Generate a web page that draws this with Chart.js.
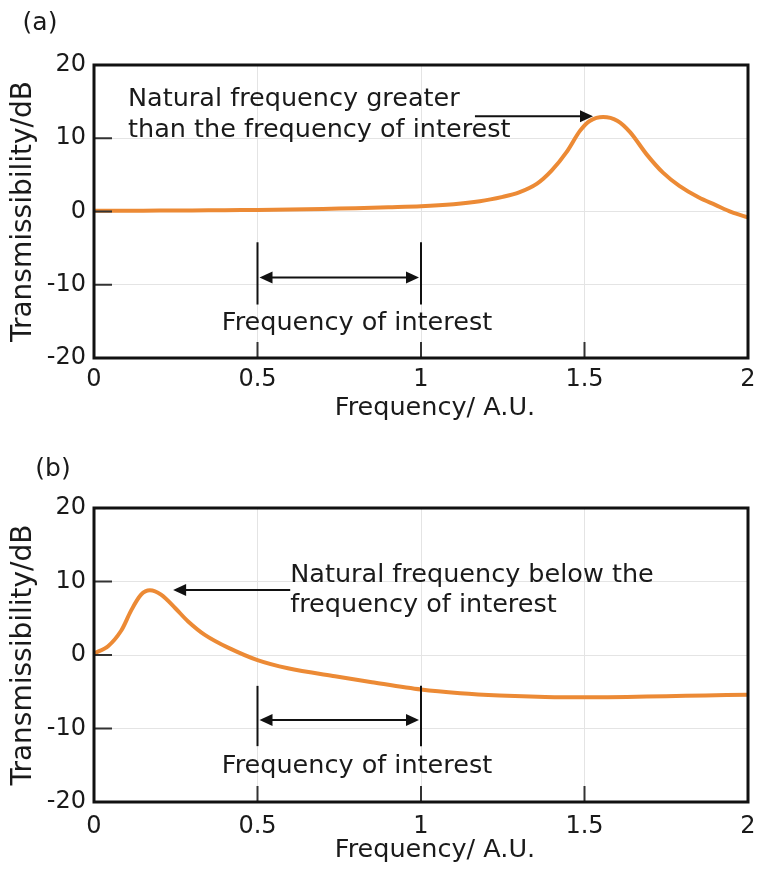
<!DOCTYPE html>
<html>
<head>
<meta charset="utf-8">
<script src="https://cdn.jsdelivr.net/npm/chart.js@4.4.0/dist/chart.umd.min.js"></script>
<style>
  html, body { margin: 0; padding: 0; background: #fff; }
  .panel { position: absolute; left: 0; width: 758px; height: 435px; }
  #panelA { top: 0; }
  #panelB { top: 435px; }
</style>
</head>
<body>
<div class="panel" id="panelA"><canvas id="chartA" width="758" height="435"></canvas></div>
<div class="panel" id="panelB"><canvas id="chartB" width="758" height="435"></canvas></div>
<script>
// Données (fréquence en A.U., transmissibilité en dB)
const freqA = [0, 0.1, 0.2, 0.3, 0.4, 0.5, 0.6, 0.7, 0.8, 0.9, 1.0, 1.1, 1.18, 1.25, 1.3, 1.355, 1.4, 1.445, 1.486, 1.517, 1.557, 1.6, 1.64, 1.69, 1.74, 1.79, 1.85, 1.9, 1.95, 2.0];
const transA = [0.1, 0.1, 0.12, 0.15, 0.18, 0.22, 0.28, 0.35, 0.45, 0.58, 0.72, 1.0, 1.4, 2.0, 2.6, 3.8, 5.6, 8.1, 11.0, 12.4, 12.9, 12.4, 10.8, 7.8, 5.3, 3.5, 1.9, 0.9, -0.1, -0.8];

const freqB = [0, 0.043, 0.083, 0.113, 0.144, 0.171, 0.205, 0.248, 0.287, 0.34, 0.41, 0.5, 0.593, 0.737, 0.85, 1.0, 1.12, 1.24, 1.38, 1.51, 1.63, 1.75, 1.87, 2.0];
const transB = [0.2, 1.2, 3.3, 6.0, 8.2, 8.8, 8.2, 6.4, 4.6, 2.7, 1.0, -0.7, -1.8, -2.9, -3.7, -4.7, -5.2, -5.5, -5.7, -5.75, -5.7, -5.6, -5.5, -5.4];

const xTickLabels = ['0', '0.5', '1', '1.5', '2'];
const yTickLabels = ['-20', '-10', '0', '10', '20'];

const FONT = '"DejaVu Sans", Verdana, sans-serif';
const INK = '#1a1a1a';
const ORANGE = '#ec8a35';

// Annotations (positions en unités de données)
const notesA = {
    tag: '(a)', tagX: 40, tagY: 23, titleY: 408,
    text: ['Natural frequency greater', 'than the frequency of interest'],
    textX: 0.104, textY: [15.3, 11.1],
    arrow: { from: 1.165, to: 1.526, y: 13.0 },
    band: { from: 0.5, to: 1.0, top: -4.2, bottom: -12.7, y: -9.0, labelY: -15.3 }
};
const notesB = {
    tag: '(b)', tagX: 53, tagY: 34, titleY: 415,
    text: ['Natural frequency below the', 'frequency of interest'],
    textX: 0.6, textY: [10.8, 6.7],
    arrow: { from: 0.6, to: 0.242, y: 8.85 },
    band: { from: 0.5, to: 1.0, top: -4.2, bottom: -12.4, y: -8.85, labelY: -15.2 }
};

function head(ctx, tipX, tipY, dir) {
    ctx.beginPath();
    ctx.moveTo(tipX, tipY);
    ctx.lineTo(tipX - dir * 13, tipY - 6);
    ctx.lineTo(tipX - dir * 13, tipY + 6);
    ctx.closePath();
    ctx.fill();
}

function seg(ctx, x1, y1, x2, y2) {
    ctx.beginPath();
    ctx.moveTo(x1, y1);
    ctx.lineTo(x2, y2);
    ctx.stroke();
}

const decor = {
    id: 'decor',
    afterDatasetsDraw(chart, args, opts) {
        const { ctx, chartArea: a, scales: { x, y } } = chart;
        const n = opts.notes;
        ctx.save();

        // petites graduations vers l'intérieur
        ctx.strokeStyle = '#333';
        ctx.lineWidth = 2;
        y.ticks.forEach(t => {
            if (t.value <= y.min || t.value >= y.max) return;
            const py = y.getPixelForValue(t.value);
            seg(ctx, a.left, py, a.left + 18, py);
        });
        x.ticks.forEach(t => {
            if (t.value <= x.min || t.value >= x.max) return;
            const px = x.getPixelForValue(t.value);
            seg(ctx, px, a.bottom, px, a.bottom - 16);
        });

        // cadre
        ctx.strokeStyle = '#111';
        ctx.lineWidth = 3;
        ctx.strokeRect(a.left, a.top, a.right - a.left, a.bottom - a.top);

        // textes
        ctx.fillStyle = INK;
        ctx.textBaseline = 'middle';
        ctx.font = '25px ' + FONT;
        ctx.textAlign = 'center';
        ctx.fillText(n.tag, n.tagX, n.tagY);
        ctx.font = '25.5px ' + FONT;
        ctx.fillText('Frequency/ A.U.', 435, n.titleY);

        ctx.textAlign = 'left';
        n.text.forEach((line, i) => {
            ctx.fillText(line, x.getPixelForValue(n.textX), y.getPixelForValue(n.textY[i]));
        });

        // flèche vers le pic
        ctx.strokeStyle = '#111';
        ctx.fillStyle = '#111';
        ctx.lineWidth = 2;
        const ay = y.getPixelForValue(n.arrow.y);
        const ax1 = x.getPixelForValue(n.arrow.from);
        const ax2 = x.getPixelForValue(n.arrow.to);
        const dir = ax2 > ax1 ? 1 : -1;
        seg(ctx, ax1, ay, ax2 - dir * 10, ay);
        head(ctx, ax2, ay, dir);

        // plage de fréquence d'intérêt
        const b = n.band;
        const bx1 = x.getPixelForValue(b.from);
        const bx2 = x.getPixelForValue(b.to);
        const by = y.getPixelForValue(b.y);
        seg(ctx, bx1, y.getPixelForValue(b.top), bx1, y.getPixelForValue(b.bottom));
        seg(ctx, bx2, y.getPixelForValue(b.top), bx2, y.getPixelForValue(b.bottom));
        seg(ctx, bx1 + 10, by, bx2 - 10, by);
        head(ctx, bx1 + 2, by, -1);
        head(ctx, bx2 - 2, by, 1);

        ctx.fillStyle = INK;
        ctx.textAlign = 'center';
        ctx.font = '25.5px ' + FONT;
        ctx.fillText('Frequency of interest', 357, y.getPixelForValue(b.labelY));

        ctx.restore();
    }
};

function makeChart(id, xs, ys, notes, padTop, xAxisHeight, tickPad) {
    const ctx = document.getElementById(id).getContext('2d');
    return new Chart(ctx, {
        type: 'line',
        data: {
            datasets: [{
                data: xs.map((v, i) => ({ x: v, y: ys[i] })),
                borderColor: ORANGE,
                borderWidth: 4,
                pointRadius: 0,
                tension: 0.3,
                fill: false
            }]
        },
        options: {
            responsive: false,
            animation: false,
            layout: { padding: { top: padTop, right: 10, left: 0, bottom: 0 } },
            plugins: {
                legend: { display: false },
                tooltip: { enabled: false },
                decor: { notes: notes }
            },
            scales: {
                x: {
                    type: 'linear',
                    min: 0,
                    max: 2,
                    afterFit: s => {
                        s.height = xAxisHeight;
                        s.paddingLeft = 0;
                        s.paddingRight = 0;
                    },
                    border: { display: false },
                    grid: { color: '#e4e4e4', lineWidth: 1, drawTicks: false },
                    ticks: {
                        stepSize: 0.5,
                        padding: tickPad,
                        color: INK,
                        font: { family: FONT, size: 24 },
                        maxRotation: 0,
                        callback: (v, i) => xTickLabels[i]
                    }
                },
                y: {
                    min: -20,
                    max: 20,
                    afterFit: s => { s.width = 94; },
                    border: { display: false },
                    grid: { color: '#e4e4e4', lineWidth: 1, drawTicks: false },
                    ticks: {
                        stepSize: 10,
                        padding: 8,
                        color: INK,
                        font: { family: FONT, size: 24 },
                        callback: (v, i) => yTickLabels[i]
                    },
                    title: {
                        display: true,
                        text: 'Transmissibility/dB',
                        color: INK,
                        padding: { top: 7, bottom: 0 },
                        font: { family: FONT, size: 28 }
                    }
                }
            }
        },
        plugins: [decor]
    });
}

makeChart('chartA', freqA, transA, notesA, 65, 77, 7);
makeChart('chartB', freqB, transB, notesB, 73, 68, 10);
</script>
</body>
</html>
